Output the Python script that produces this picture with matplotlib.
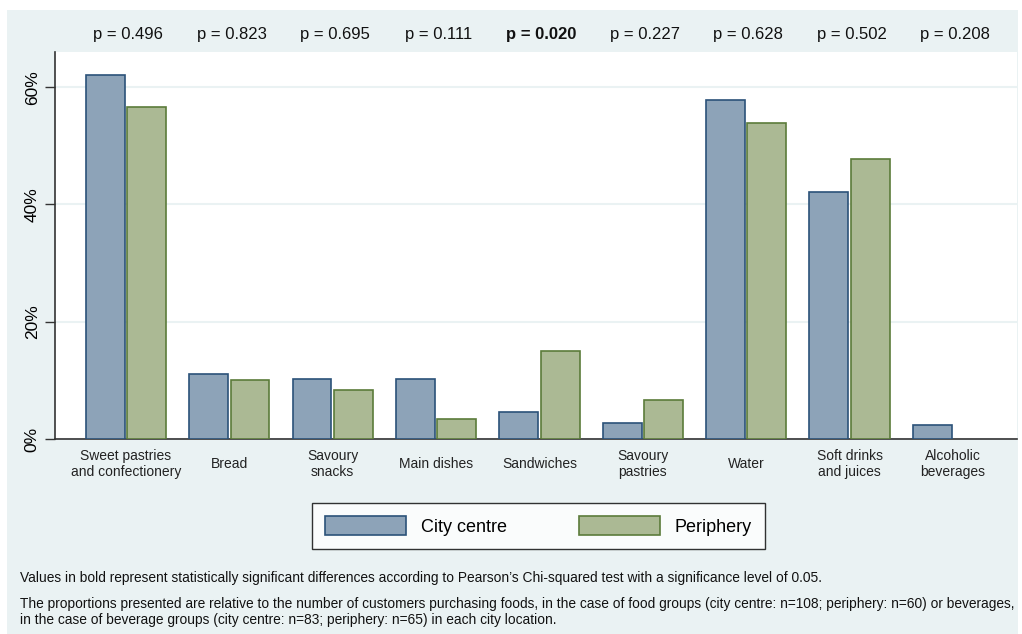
import matplotlib.pyplot as plt
import matplotlib.transforms as mtransforms
from matplotlib.patches import Rectangle, Patch
import numpy as np

plt.rcParams['font.family'] = ['Liberation Sans', 'DejaVu Sans']

categories = ['Sweet pastries\nand confectionery', 'Bread', 'Savoury\nsnacks', 'Main dishes',
              'Sandwiches', 'Savoury\npastries', 'Water', 'Soft drinks\nand juices',
              'Alcoholic\nbeverages']
city_centre = [62.04, 11.11, 10.19, 10.19, 4.63, 2.78, 57.83, 42.17, 2.41]
periphery = [56.67, 10.00, 8.33, 3.33, 15.00, 6.67, 53.85, 47.69, 0.0]
p_values = ['0.496', '0.823', '0.695', '0.111', '0.020', '0.227', '0.628', '0.502', '0.208']
significant = [False, False, False, False, True, False, False, False, False]

BG = '#eaf2f3'
BLUE, BLUE_EDGE = '#8da3b8', '#2b5279'
GREEN, GREEN_EDGE = '#abb994', '#5b7b3a'

W, H = 1022, 634
fig = plt.figure(figsize=(W / 100, H / 100), dpi=100)
fig.patch.set_facecolor('white')
fig.patches.append(Rectangle((7 / W, 0), (1018 - 7) / W, 1 - 10 / H,
                             transform=fig.transFigure, facecolor=BG,
                             edgecolor='none', zorder=-10))

ax = fig.add_axes([55 / W, 1 - 439 / H, (1017 - 55) / W, (439 - 52) / H])
ax.set_facecolor('white')

x = np.arange(len(categories))
bw = 0.375
for vals, off, fc, ec in [(city_centre, -0.2, BLUE, BLUE_EDGE), (periphery, 0.2, GREEN, GREEN_EDGE)]:
    # empty groups get no outline so nothing shows on the baseline
    edges = [ec if v > 0 else 'none' for v in vals]
    ax.bar(x + off, vals, bw, color=fc, edgecolor=edges, linewidth=1.2, zorder=3)

ax.set_xlim(-0.687, 8.62)
ax.set_ylim(0, 66)
ax.set_yticks([0, 20, 40, 60])
ax.set_yticklabels(['0%', '20%', '40%', '60%'], rotation=90, va='center', fontsize=12.5)
ax.yaxis.grid(True, color=BG, linewidth=1.5, zorder=0)
ax.set_axisbelow(True)
ax.tick_params(axis='y', length=7, width=1, color='#333333', pad=4)
ax.set_xticks([])
for s in ['top', 'right']:
    ax.spines[s].set_visible(False)
for s in ['left', 'bottom']:
    ax.spines[s].set_color('#333333')
    ax.spines[s].set_linewidth(1.2)

# category labels below the axis, vertically centred
for xi, lab in zip(x, categories):
    ax.text(xi, -0.065, lab, transform=ax.get_xaxis_transform(), ha='center', va='center',
            fontsize=10, linespacing=1.15, color='#222222')

# p-values in the band above the plot
trans = mtransforms.blended_transform_factory(ax.transData, fig.transFigure)
for xi, p, sig in zip(x, p_values, significant):
    ax.text(xi + 0.02, 1 - 35 / H, 'p = ' + p, transform=trans, ha='center', va='center',
            fontsize=12, fontweight='bold' if sig else 'normal', color='#111111')

handles = [Patch(facecolor=BLUE, edgecolor=BLUE_EDGE, linewidth=1.2, label='City centre'),
           Patch(facecolor=GREEN, edgecolor=GREEN_EDGE, linewidth=1.2, label='Periphery')]
leg = fig.legend(handles=handles, loc='center', bbox_to_anchor=(538.5 / W, 1 - 526 / H),
                 ncol=2, fontsize=13, frameon=True, fancybox=False, edgecolor='black',
                 handlelength=4.5, handleheight=1.2, handletextpad=0.8, columnspacing=4.0,
                 borderpad=0.75, borderaxespad=0)
leg.get_frame().set_linewidth(1.0)
leg.get_frame().set_facecolor('white')

fig.text(20 / W, 1 - 578 / H,
         'Values in bold represent statistically significant differences according to '
         'Pearson\u2019s Chi-squared test with a significance level of 0.05.',
         fontsize=9.9, ha='left', va='center', color='#111111')
fig.text(20 / W, 1 - 612 / H,
         'The proportions presented are relative to the number of customers purchasing foods, '
         'in the case of food groups (city centre: n=108; periphery: n=60) or beverages,\n'
         'in the case of beverage groups (city centre: n=83; periphery: n=65) in each city location.',
         fontsize=9.9, ha='left', va='center', linespacing=1.15, color='#111111')

fig.savefig('out.png', dpi=100)
